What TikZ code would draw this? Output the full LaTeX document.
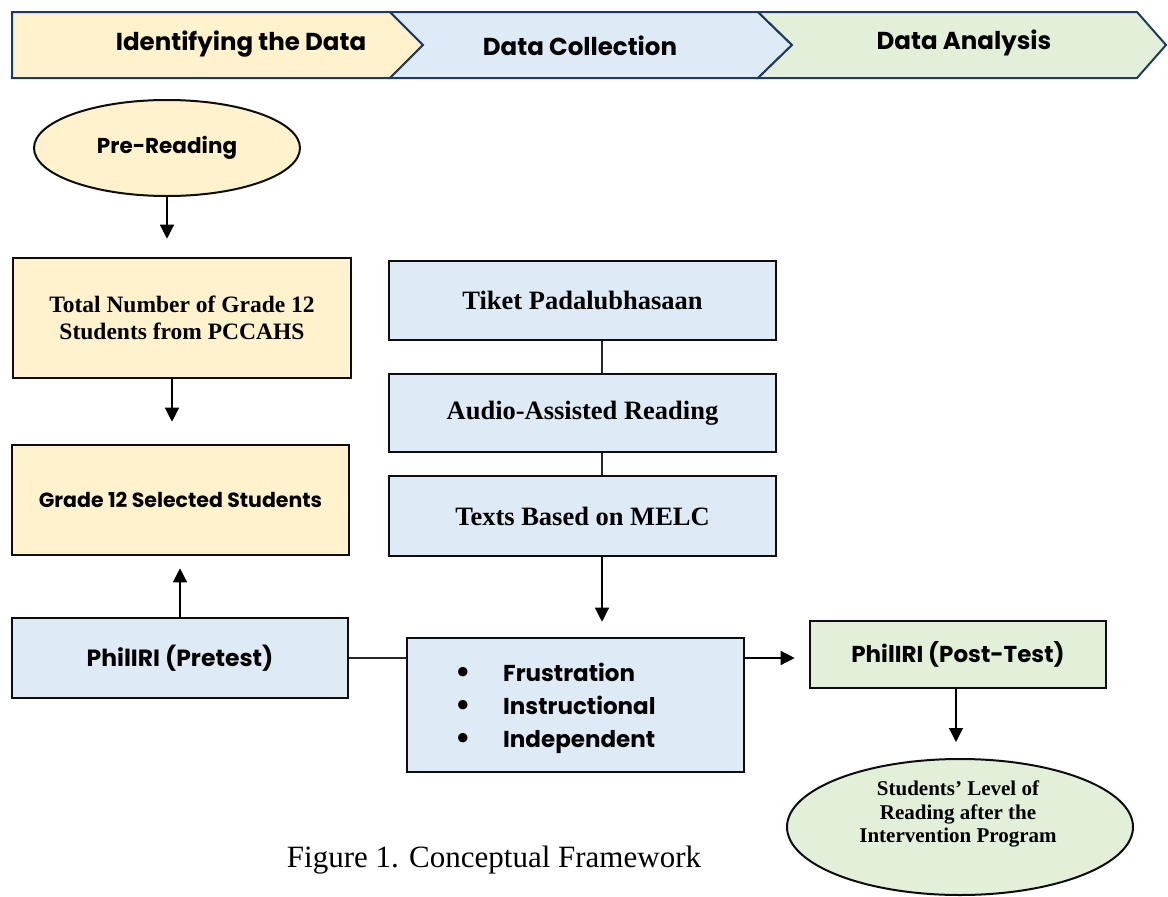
\documentclass[tikz,border=0pt]{standalone}
\usepackage{fontspec}
\setmainfont{Liberation Serif}
\newfontfamily\cgfont{Poppins}
\usetikzlibrary{arrows.meta,shapes.geometric,calc}
\definecolor{fy}{HTML}{FFF2CC}
\definecolor{fb}{HTML}{DEEBF7}
\definecolor{fg}{HTML}{E2F0D9}
\definecolor{navy}{HTML}{1F3864}
\definecolor{ink}{HTML}{0D0D0D}
\tikzset{
  box/.style={draw=ink, line width=2.6pt, inner sep=0pt, align=center, text=black},
  ellbox/.style={ellipse, draw=ink, line width=2pt, inner sep=0pt, align=center},
  band/.style={draw=navy, line width=2pt, line join=miter},
  arr/.style={draw=black, line width=1.3pt, -{Triangle[length=14pt,width=14pt]}},
  link/.style={draw=black!85, line width=1.3pt},
  sanslbl/.style={font=\cgfont\bfseries\fontsize{#1}{#1}\selectfont},
  seriflbl/.style={font=\bfseries\fontsize{#1}{#1}\selectfont}
}
\newcommand{\bul}{\makebox[48pt][l]{\raisebox{-1pt}{\scalebox{1.35}{•}}}}
\begin{document}
\begin{tikzpicture}[x=1pt,y=-1pt]
\useasboundingbox[fill=white] (0,0) rectangle (1168,897);
% banner
\path[band, fill=fy] (12,12) -- (390,12) -- (423,45) -- (390,78) -- (12,78) -- cycle;
\path[band, fill=fb] (390,12) -- (758,12) -- (792,45) -- (758,78) -- (390,78) -- (423,45) -- cycle;
\path[band, fill=fg] (758,12) -- (1137,12) -- (1166,45) -- (1137,78) -- (758,78) -- (792,45) -- cycle;
\node[sanslbl=24.5] (ident) at (241,44) {Identifying the Data};
\node[sanslbl=24.5] (coll) at (580,46) {Data Collection};
\node[sanslbl=24.5] (anal) at (964,43) {Data Analysis};
% left column
\node[ellbox, fill=fy, minimum width=266pt, minimum height=96pt, sanslbl=21.5] (pre) at (167,148) {Pre-Reading};
\node[box, fill=fy, minimum width=338pt, minimum height=120pt, font=\bfseries\fontsize{23.5}{27}\selectfont] (tn) at (182,318) {Total Number of Grade 12\\Students from PCCAHS};
\node[box, fill=fy, minimum width=337pt, minimum height=110pt, sanslbl=20.5] (gs) at (180.5,500) {Grade 12 Selected Students};
\node[box, fill=fb, minimum width=336pt, minimum height=80pt, sanslbl=23.5] (pb) at (180,658) {PhilIRI (Pretest)};
% middle column
\node[box, fill=fb, minimum width=387pt, minimum height=79pt, seriflbl=26.5] (tk) at (582.5,300.5) {Tiket Padalubhasaan};
\node[box, fill=fb, minimum width=387pt, minimum height=78pt, seriflbl=26.5] (au) at (582.5,413) {Audio-Assisted Reading};
\node[box, fill=fb, minimum width=387pt, minimum height=80pt, seriflbl=26.5] (me) at (582.5,516) {Texts Based on MELC};
\node[box, fill=fb, minimum width=337pt, minimum height=134pt] (bl) at (575.5,705) {};
\node[anchor=west, inner sep=0pt, align=left, font=\cgfont\bfseries\fontsize{23}{33}\selectfont] (bt) at (455,708)
  {\bul Frustration\\\bul Instructional\\\bul Independent};
% right column
\node[box, fill=fg, minimum width=296pt, minimum height=67pt, sanslbl=23] (po) at (958,654.5) {PhilIRI (Post-Test)};
\node[ellbox, fill=fg, minimum width=346pt, minimum height=136pt] (lv) at (960,827) {};
\node[inner sep=0pt, align=center, font=\bfseries\fontsize{21}{23.5}\selectfont] (lvt) at (958,814) {Students’ Level of\\Reading after the\\Intervention Program};
% caption
\node[font=\fontsize{31}{31}\selectfont, inner sep=0pt] (cap) at (494,860) {Figure 1. Conceptual Framework};
% connector helper coordinates
\coordinate (cx) at ($(tk.south)+(19.5,0)$);
\coordinate (tnx) at ($(tn.south)+(-10,0)$);
\coordinate (pox) at ($(po.south)+(-2,0)$);
% connectors
\draw[arr] (pre.south) -- ([yshift=18pt]pre.south |- tn.north);
\draw[arr] (tnx) -- ([yshift=22pt]tnx |- gs.north);
\draw[arr] (pb.north) -- ([yshift=-12pt]pb.north |- gs.south);
\draw[link] (pb.east) -- (pb.east -| bl.west);
\draw[link] (cx) -- (cx |- au.north);
\draw[link] (cx |- au.south) -- (cx |- me.north);
\draw[arr] (cx |- me.south) -- ([yshift=15pt]cx |- bl.north);
\draw[arr] (bl.east |- pb.east) -- ([xshift=-14pt]po.west |- pb.east);
\draw[arr] (pox) -- ([yshift=16pt]pox |- lv.north);
\end{tikzpicture}
\end{document}
